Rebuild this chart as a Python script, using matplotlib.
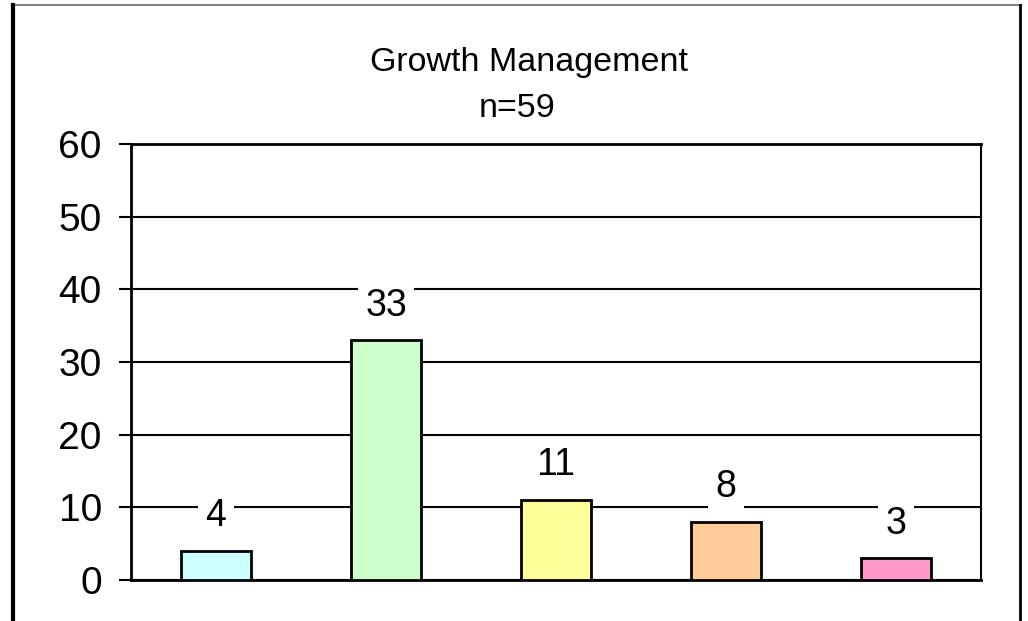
import matplotlib.pyplot as plt
from matplotlib.lines import Line2D

plt.rcParams['font.family'] = ['Liberation Sans', 'DejaVu Sans']

categories = ['A', 'B', 'C', 'D', 'E']
counts = [4, 33, 11, 8, 3]
colors = ['#CCFFFF', '#CCFFCC', '#FFFF99', '#FFCC99', '#FF99CC']
yticks = [0, 10, 20, 30, 40, 50, 60]

fig = plt.figure(figsize=(10.28, 6.21), dpi=100)
ax = fig.add_axes([131 / 1028, 41 / 621, 850 / 1028, 436 / 621])

x = range(len(categories))
ax.bar(x, counts, width=0.41, color=colors, edgecolor='black', linewidth=2, zorder=3)

for i, v in enumerate(counts):
    ax.annotate(str(v), (i, v), xytext=(0, 12), textcoords='offset points',
                ha='center', va='bottom', fontsize=27, zorder=4,
                bbox=dict(boxstyle='square,pad=0.2', fc='white', ec='none'))

ax.set_xlim(-0.5, len(categories) - 0.5)
ax.set_ylim(0, 60)
ax.set_yticks(yticks)
ax.set_xticks([])
ax.tick_params(axis='y', labelsize=28, length=9, width=1.5, pad=12)
ax.yaxis.grid(True, color='black', linewidth=1.5, zorder=0)
for s in ax.spines.values():
    s.set_linewidth(2)
ax.spines['right'].set_linewidth(1.5)

fig.text(0.515, 0.899, 'Growth Management', ha='center', va='center', fontsize=24.5)
fig.text(0.503, 0.826, 'n=59', ha='center', va='center', fontsize=24.5)

# outer chart frame
fig.add_artist(Line2D([12 / 1028, 1021 / 1028], [1 - 5 / 621] * 2, color='#808080', linewidth=1.5))
fig.add_artist(Line2D([13 / 1028] * 2, [0, 1 - 5 / 621], color='black', linewidth=3))
fig.add_artist(Line2D([1020 / 1028] * 2, [0, 1 - 5 / 621], color='black', linewidth=2))

fig.savefig('out.png', dpi=100)
